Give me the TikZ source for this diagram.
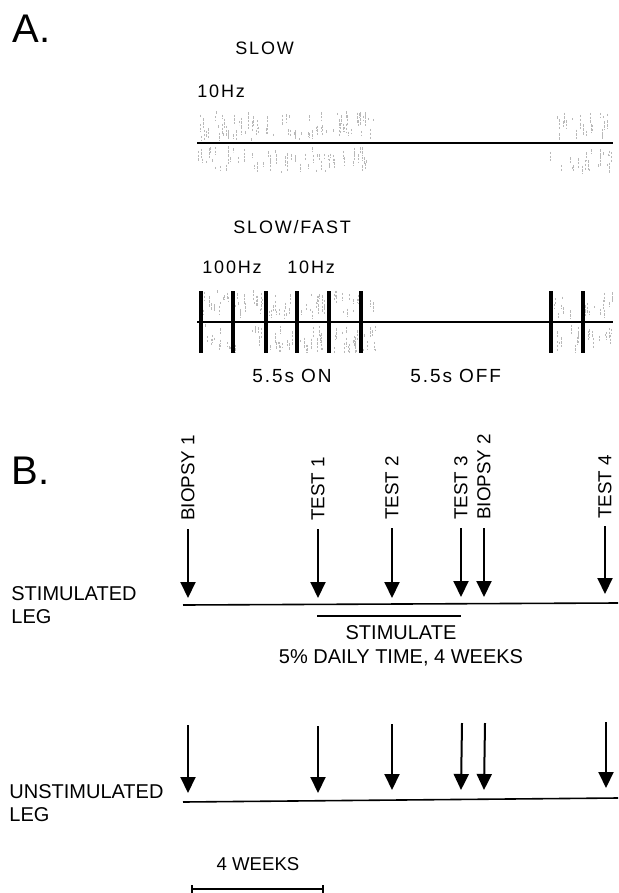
\documentclass[tikz,border=0pt]{standalone}
\usepackage{fontspec}
\setmainfont{Liberation Sans}
\newfontfamily\plotfont[LetterSpace=10]{Liberation Sans}
\usetikzlibrary{arrows.meta}
\newcommand{\stipple}[5]{%
  \foreach \k in {1,...,#5}{
    \pgfmathsetmacro{\sx}{#1+(#2-#1)*rnd}
    \pgfmathsetmacro{\sl}{2+9*rnd}
    \pgfmathsetmacro{\sy}{#3+(#4-#3-\sl)*rnd}
    \draw[stip] (\sx,\sy) -- ++(0,\sl);
  }}

\tikzset{
  stip/.style={gray!55, line width=0.45pt, dash pattern=on 1.2pt off 0.7pt},
  trace/.style={line width=1.1pt},
  pulse/.style={line width=2.2pt},
  evarrow/.style={-{Triangle[width=7.5pt,length=8pt]}, line width=1pt},
  evlabel/.style={rotate=90, anchor=west, inner sep=0pt, font=\fontsize{9.4}{11}\selectfont},
  leglabel/.style={align=left, anchor=west, inner sep=0pt, font=\fontsize{10}{11.75}\selectfont},
  plotlabel/.style={anchor=west, inner sep=0pt, font=\plotfont\fontsize{9}{11}\selectfont},
  part/.style={anchor=west, inner sep=0pt, font=\fontsize{20}{24}\selectfont}
}

\begin{document}
\begin{tikzpicture}[x=0.5pt, y=-0.5pt]
    \useasboundingbox (0,0) rectangle (618,893);
    \pgfmathsetseed{17}

    % Part A
    \node[part] (parta) at (12,29) {A.};
    \node[plotlabel] (slowlbl) at (235,48) {SLOW};
    \node[plotlabel] (slowhz) at (197,91) {10Hz};
    \node[plotlabel] (fastlbl) at (233,227) {SLOW/FAST};
    \node[plotlabel] (fasthz) at (202,267) {100Hz};
    \node[plotlabel] (fastslowhz) at (287,267) {10Hz};
    \node[plotlabel, font=\plotfont\fontsize{9.5}{11}\selectfont] (onlbl) at (252,376) {5.5s ON};
    \node[plotlabel, font=\plotfont\fontsize{9.5}{11}\selectfont] (offlbl) at (410,376) {5.5s OFF};

    % slow trace
    \stipple{197}{374}{111}{141}{85}
    \stipple{197}{374}{146}{174}{65}
    \stipple{548}{613}{111}{141}{25}
    \stipple{548}{613}{146}{174}{22}
    \coordinate (slow0) at (197,143);
    \coordinate (slow1) at (613,143);
    \draw[trace] (slow0) -- (slow1);

    % slow/fast trace
    \stipple{200}{376}{290}{320}{85}
    \stipple{200}{376}{324}{354}{80}
    \stipple{551}{613}{290}{320}{25}
    \stipple{551}{613}{324}{354}{22}
    \coordinate (fast0) at (197,322);
    \coordinate (fast1) at (613,322);
    \draw[trace] (fast0) -- (fast1);
    \foreach \bx in {201,233,266,297,329,361,551,583}
        \draw[pulse] (\bx,291) -- (\bx,353);

    % Part B
    \node[part] (partb) at (11,471) {B.};
    \node[leglabel] (stimleg) at (11,605) {STIMULATED\\LEG};
    \node[leglabel] (unstimleg) at (9,803) {UNSTIMULATED\\LEG};

    \node[evlabel] (sb1) at (188,521) {BIOPSY 1};
    \node[evlabel] (st1) at (318,521) {TEST 1};
    \node[evlabel] (st2) at (392,520) {TEST 2};
    \node[evlabel] (st3) at (461,520) {TEST 3};
    \node[evlabel] (sb2) at (484,520) {BIOPSY 2};
    \node[evlabel] (st4) at (605,519) {TEST 4};

    \coordinate (tb1) at (188,598);
    \coordinate (tt1) at (318,598);
    \coordinate (tt2) at (392,598);
    \coordinate (tt3) at (461,597);
    \coordinate (tb2) at (484,597);
    \coordinate (tt4) at (605,594);

    \draw[evarrow] ([yshift=-4pt]sb1.west) -- (tb1);
    \draw[evarrow] ([yshift=-4pt]st1.west) -- (tt1);
    \draw[evarrow] ([yshift=-4pt]st2.west) -- (tt2);
    \draw[evarrow] ([yshift=-4pt]st3.west) -- (tt3);
    \draw[evarrow] ([yshift=-4pt]sb2.west) -- (tb2);
    \draw[evarrow] ([yshift=-3.5pt]st4.west) -- (tt4);

    \coordinate (sline0) at (183,605);
    \coordinate (sline1) at (618,603);
    \draw[line width=0.8pt] (sline0) -- (sline1);
    \coordinate (stim0) at (317,616);
    \coordinate (stim1) at (461,616);
    \draw[line width=1.1pt] (stim0) -- (stim1);
    \node[font=\fontsize{10}{12}\selectfont, align=center] (stimlbl) at (401,646)
        {STIMULATE\\5\% DAILY TIME, 4 WEEKS};

    % unstimulated leg
    \coordinate (ub1a) at (188,725);  \coordinate (ub1b) at (188,793);
    \coordinate (ut1a) at (318,726);  \coordinate (ut1b) at (318,793);
    \coordinate (ut2a) at (392,724);  \coordinate (ut2b) at (392,790);
    \coordinate (ut3a) at (462,723);  \coordinate (ut3b) at (461,790);
    \coordinate (ub2a) at (485,723);  \coordinate (ub2b) at (484,790);
    \coordinate (ut4a) at (606,722);  \coordinate (ut4b) at (606,788);
    \draw[evarrow] (ub1a) -- (ub1b);
    \draw[evarrow] (ut1a) -- (ut1b);
    \draw[evarrow] (ut2a) -- (ut2b);
    \draw[evarrow] (ut3a) -- (ut3b);
    \draw[evarrow] (ub2a) -- (ub2b);
    \draw[evarrow] (ut4a) -- (ut4b);

    \coordinate (uline0) at (183,802);
    \coordinate (uline1) at (618,798);
    \draw[line width=0.8pt] (uline0) -- (uline1);

    % scale bar
    \node[font=\fontsize{9.3}{11}\selectfont] (weeks) at (258,864) {4 WEEKS};
    \coordinate (bar0) at (191,889);
    \coordinate (bar1) at (324,889);
    \draw[line width=0.8pt, {Bar[width=4pt]}-{Bar[width=4pt]}] (bar0) -- (bar1);
\end{tikzpicture}
\end{document}
